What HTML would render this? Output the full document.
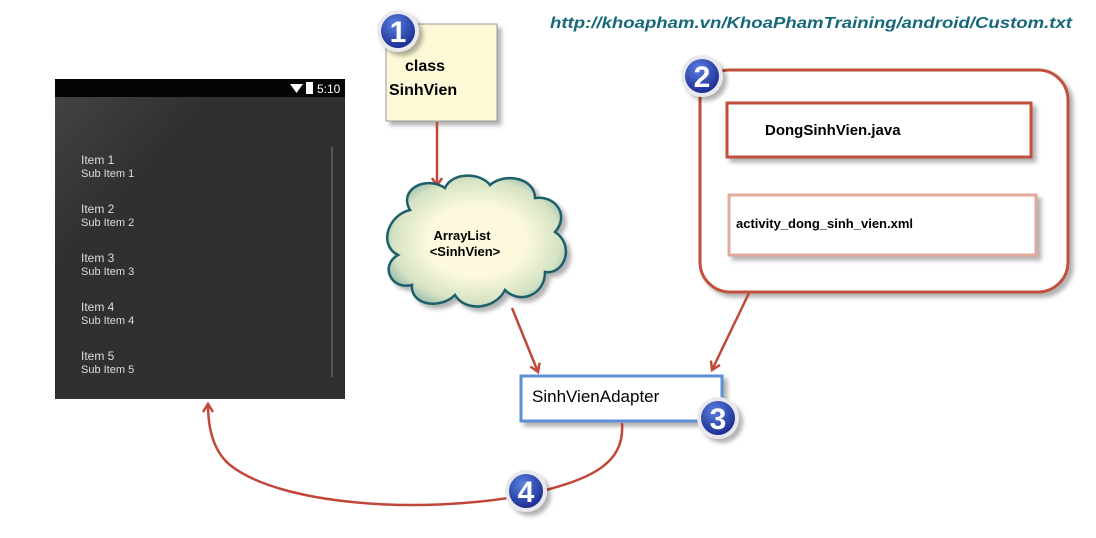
<!DOCTYPE html>
<html><head><style>
html,body{margin:0;padding:0;background:#fff;}
svg{display:block;font-family:"Liberation Sans",sans-serif;}
</style></head><body>
<svg width="1096" height="538" viewBox="0 0 1096 538" xmlns="http://www.w3.org/2000/svg">
<defs>
<radialGradient id="cg" cx="50%" cy="50%" r="55%"><stop offset="0.5" stop-color="#fdf9dc"/><stop offset="0.85" stop-color="#d5e3c4"/><stop offset="1" stop-color="#9fbfae"/></radialGradient>
<radialGradient id="bg" cx="40%" cy="30%" r="70%"><stop offset="0" stop-color="#5a7fe0"/><stop offset="1" stop-color="#1c2e94"/></radialGradient>
<linearGradient id="ph" x1="0" y1="0" x2="1" y2="1"><stop offset="0" stop-color="#444"/><stop offset="0.3" stop-color="#303030"/></linearGradient>
<filter id="sh" x="-10%" y="-10%" width="130%" height="130%"><feDropShadow dx="4" dy="4" stdDeviation="2" flood-color="#000" flood-opacity="0.3"/></filter>
<marker id="ar" markerWidth="14" markerHeight="14" refX="9" refY="6" orient="auto" markerUnits="userSpaceOnUse"><path d="M1,1 L9,6 L1,11" fill="none" stroke="#c0473a" stroke-width="2.5"/></marker>
<g id="badge"><circle r="21" fill="#e8e8ee" filter="url(#sh)"/><circle r="17" fill="url(#bg)"/></g>
</defs>

<!-- phone -->
<rect x="55" y="79" width="290" height="320" fill="url(#ph)"/>
<rect x="55" y="79" width="290" height="18" fill="#050505"/>
<path d="M290,84 L303,84 L296.5,93 Z" fill="#fff"/>
<rect x="306" y="82" width="7" height="12" fill="#fff"/>
<text x="317" y="93" font-size="12" fill="#fff">5:10</text>
<rect x="331" y="147" width="2" height="230" fill="#555"/>
<g fill="#ddd" font-size="12">
<text x="81" y="164">Item 1</text><text x="81" y="177" font-size="11">Sub Item 1</text>
<text x="81" y="213">Item 2</text><text x="81" y="226" font-size="11">Sub Item 2</text>
<text x="81" y="262">Item 3</text><text x="81" y="275" font-size="11">Sub Item 3</text>
<text x="81" y="311">Item 4</text><text x="81" y="324" font-size="11">Sub Item 4</text>
<text x="81" y="360">Item 5</text><text x="81" y="373" font-size="11">Sub Item 5</text>
</g>

<!-- url -->
<text x="550" y="28" font-size="16" font-weight="bold" font-style="italic" fill="#17687a" textLength="522" lengthAdjust="spacingAndGlyphs">http://khoapham.vn/KhoaPhamTraining/android/Custom.txt</text>

<!-- class box -->
<rect x="386" y="24" width="111" height="97" fill="#fdf8d6" stroke="#999" filter="url(#sh)"/>
<text x="405" y="71" font-size="16" font-weight="bold">class</text>
<text x="389" y="95" font-size="16" font-weight="bold">SinhVien</text>
<use href="#badge" x="398" y="31"/>
<text x="398" y="42" font-size="30" font-weight="bold" fill="#fff" text-anchor="middle">1</text>

<line x1="437" y1="122" x2="437" y2="186" stroke="#c0473a" stroke-width="2.5" marker-end="url(#ar)"/>

<!-- cloud -->
<path d="M410,210 C398,190 425,175 445,188 C452,172 480,172 490,185 C505,172 535,178 535,198 C555,195 570,215 555,232 C575,245 565,275 545,272 C545,295 520,305 505,290 C495,310 465,312 455,295 C440,310 410,305 412,285 C390,290 380,265 398,255 C378,245 388,215 410,210 Z" fill="url(#cg)" stroke="#1f5f6a" stroke-width="2.5" filter="url(#sh)"/>
<text x="462" y="240" font-size="13" font-weight="bold" text-anchor="middle">ArrayList</text>
<text x="465" y="256" font-size="13" font-weight="bold" text-anchor="middle">&lt;SinhVien&gt;</text>

<!-- big group -->
<rect x="700" y="70" width="368" height="222" rx="30" fill="#fff" stroke="#c0503a" stroke-width="3" filter="url(#sh)"/>
<rect x="727" y="103" width="304" height="54" fill="#fff" stroke="#c0503a" stroke-width="3" filter="url(#sh)"/>
<text x="765" y="135" font-size="15" font-weight="bold">DongSinhVien.java</text>
<rect x="729" y="195" width="307" height="60" fill="#fff" stroke="#e2aa9c" stroke-width="3" filter="url(#sh)"/>
<text x="736" y="228" font-size="13" font-weight="bold">activity_dong_sinh_vien.xml</text>
<use href="#badge" x="702" y="76"/>
<text x="702" y="87" font-size="30" font-weight="bold" fill="#fff" text-anchor="middle">2</text>

<!-- arrows to adapter -->
<line x1="512" y1="308" x2="538" y2="372" stroke="#c0473a" stroke-width="2.5" marker-end="url(#ar)"/>
<line x1="749" y1="293" x2="712" y2="370" stroke="#c0473a" stroke-width="2.5" marker-end="url(#ar)"/>

<!-- adapter -->
<rect x="521" y="376" width="201" height="45" fill="#fff" stroke="#5b8fd4" stroke-width="3" filter="url(#sh)"/>
<text x="532" y="402" font-size="17">SinhVienAdapter</text>
<use href="#badge" x="718" y="418"/>
<text x="718" y="429" font-size="30" font-weight="bold" fill="#fff" text-anchor="middle">3</text>

<!-- curve -->
<path d="M622,423 C625,465 590,480 526,495 C420,515 280,505 230,465 C212,450 208,425 208,404" fill="none" stroke="#c0473a" stroke-width="2.5" marker-end="url(#ar)"/>
<use href="#badge" x="526" y="491"/>
<text x="526" y="502" font-size="30" font-weight="bold" fill="#fff" text-anchor="middle">4</text>
</svg>
</body></html>
